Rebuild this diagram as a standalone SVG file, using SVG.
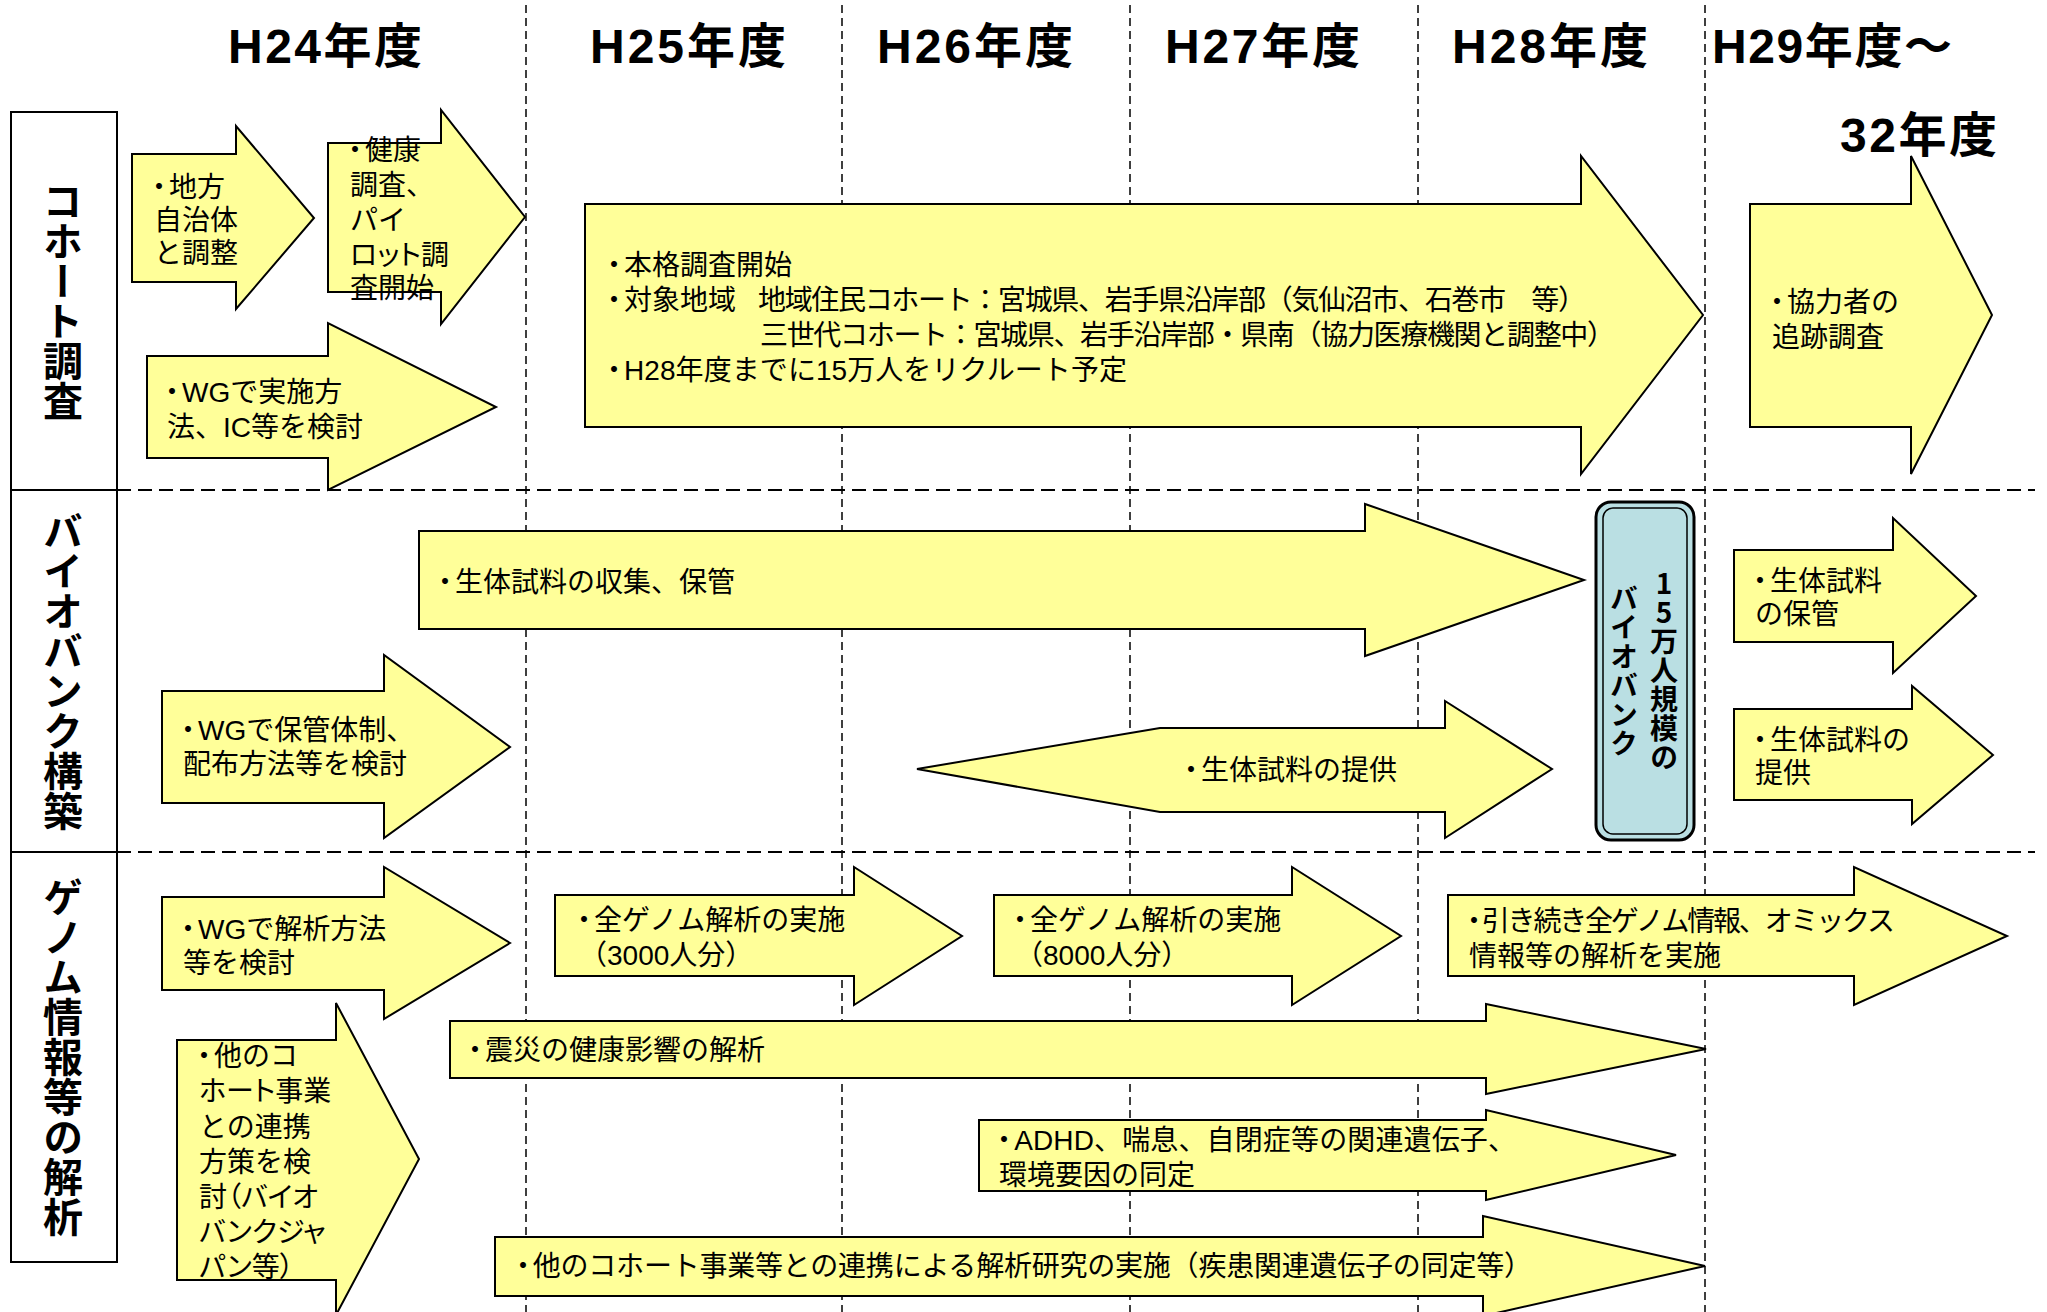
<svg xmlns="http://www.w3.org/2000/svg" width="2047" height="1312" viewBox="0 0 2047 1312">
<style>
.ar{fill:#FFFF99;stroke:#000;stroke-width:2;stroke-linejoin:miter}
.t{font-family:"Liberation Sans","Noto Sans CJK JP",sans-serif;font-size:28px;fill:#000}
.p{font-feature-settings:"palt"}
.h{font-family:"Liberation Sans","Noto Sans CJK JP",sans-serif;font-weight:bold;font-size:48px;fill:#000}
.lab{font-family:"Noto Sans CJK JP",sans-serif;font-weight:bold;font-size:40px;writing-mode:vertical-rl;text-anchor:middle;fill:#000}
.bb{font-family:"Noto Sans CJK JP","Liberation Sans",sans-serif;font-weight:bold;font-size:28px;writing-mode:vertical-rl;text-orientation:upright;text-anchor:middle;letter-spacing:1px;fill:#000}
.vl{stroke:#000;stroke-width:1.5;stroke-dasharray:8 5;fill:none}
.hl{stroke:#000;stroke-width:2;stroke-dasharray:14 7;fill:none}
.box{fill:#fff;stroke:#000;stroke-width:2}
</style>
<rect width="2047" height="1312" fill="#fff"/>
<g id="grid">
<line class="vl" x1="526" y1="5" x2="526" y2="1312"/>
<line class="vl" x1="842" y1="5" x2="842" y2="1312"/>
<line class="vl" x1="1130" y1="5" x2="1130" y2="1312"/>
<line class="vl" x1="1418" y1="5" x2="1418" y2="1312"/>
<line class="vl" x1="1705" y1="5" x2="1705" y2="1312"/>
<line class="hl" x1="117" y1="490" x2="2035" y2="490"/>
<line class="hl" x1="117" y1="852" x2="2035" y2="852"/>
</g>
<g id="headers">
<text class="h" x="228" y="63" textLength="194">H24年度</text>
<text class="h" x="590" y="63" textLength="196">H25年度</text>
<text class="h" x="877" y="63" textLength="196">H26年度</text>
<text class="h" x="1165" y="63" textLength="195">H27年度</text>
<text class="h" x="1452" y="63" textLength="196">H28年度</text>
<text class="h" x="1712" y="63" textLength="240">H29年度～</text>
<text class="h" x="1840" y="152" textLength="157">32年度</text>
</g>
<g id="label-cohort">
<rect class="box" x="11" y="112" width="106" height="378"/>
<text class="lab" x="63" y="301">コホート調査</text>
</g>
<g id="label-biobank">
<rect class="box" x="11" y="490" width="106" height="362"/>
<text class="lab" x="63" y="671">バイオバンク構築</text>
</g>
<g id="label-genome">
<rect class="box" x="11" y="852" width="106" height="410"/>
<text class="lab" x="63" y="1057">ゲノム情報等の解析</text>
</g>
<g id="a1">
<polygon class="ar" points="132,154 236,154 236,126 314,218 236,309 236,282 132,282"/>
<text class="t" x="154" y="197" dx="-9 -4">・地方</text>
<text class="t" x="154" y="230">自治体</text>
<text class="t" x="154" y="263">と調整</text>
</g>
<g id="a2">
<polygon class="ar" points="328,143 441,143 441,110 525,217 441,324 441,292 328,292"/>
<text class="t" x="350" y="160" dx="-9 -4">・健康</text>
<text class="t" x="350" y="195">調査、</text>
<text class="t" x="350" y="230">パイ</text>
<text class="t p" x="350" y="265">ロット調</text>
<text class="t" x="350" y="298">査開始</text>
</g>
<g id="a3">
<polygon class="ar" points="147,356 328,356 328,323 496,407 328,490 328,458 147,458"/>
<text class="t" x="167" y="402" dx="-9 -4">・WGで実施方</text>
<text class="t" x="167" y="437">法、IC等を検討</text>
</g>
<g id="a4">
<polygon class="ar" points="585,204 1581,204 1581,156 1703,315 1581,474 1581,427 585,427"/>
<text class="t" x="609" y="275" dx="-9 -4">・本格調査開始</text>
<text class="t" x="609" y="310" dx="-9 -4">・対象地域</text>
<text class="t" x="758" y="310" textLength="828">地域住民コホート：宮城県、岩手県沿岸部（気仙沼市、石巻市　等）</text>
<text class="t" x="760" y="345" textLength="855">三世代コホート：宮城県、岩手沿岸部・県南（協力医療機関と調整中）</text>
<text class="t" x="609" y="380" dx="-9 -4" textLength="527">・H28年度までに15万人をリクルート予定</text>
</g>
<g id="a5">
<polygon class="ar" points="1750,204 1911,204 1911,156 1992,315 1911,474 1911,427 1750,427"/>
<text class="t" x="1772" y="312" dx="-9 -4">・協力者の</text>
<text class="t" x="1772" y="347">追跡調査</text>
</g>
<g id="b1">
<polygon class="ar" points="419,531 1365,531 1365,504 1584,580 1365,656 1365,629 419,629"/>
<text class="t" x="440" y="592" dx="-9 -4">・生体試料の収集、保管</text>
</g>
<g id="b2">
<polygon class="ar" points="162,691 384,691 384,655 510,747 384,838 384,803 162,803"/>
<text class="t" x="183" y="740" dx="-9 -4">・WGで保管体制、</text>
<text class="t" x="183" y="774">配布方法等を検討</text>
</g>
<g id="b3">
<polygon class="ar" points="917,769 1160,728 1445,728 1445,701 1552,769 1445,838 1445,812 1160,812"/>
<text class="t" x="1186" y="780" dx="-9 -4">・生体試料の提供</text>
</g>
<g id="biobank">
<rect x="1596" y="502" width="98" height="338" rx="15" fill="#BADFE3" stroke="#000" stroke-width="3"/>
<rect x="1603" y="508" width="84" height="326" rx="10" fill="none" stroke="#000" stroke-width="1.5"/>
<text class="bb" x="1664" y="671">15万人規模の</text>
<text class="bb" x="1624" y="671">バイオバンク</text>
</g>
<g id="b4">
<polygon class="ar" points="1734,550 1893,550 1893,518 1976,596 1893,673 1893,642 1734,642"/>
<text class="t" x="1755" y="591" dx="-9 -4">・生体試料</text>
<text class="t" x="1755" y="624">の保管</text>
</g>
<g id="b5">
<polygon class="ar" points="1734,709 1912,709 1912,686 1993,755 1912,824 1912,800 1734,800"/>
<text class="t" x="1755" y="750" dx="-9 -4">・生体試料の</text>
<text class="t" x="1755" y="783">提供</text>
</g>
<g id="c1">
<polygon class="ar" points="162,897 384,897 384,867 510,943 384,1019 384,990 162,990"/>
<text class="t" x="183" y="939" dx="-9 -4">・WGで解析方法</text>
<text class="t" x="183" y="973">等を検討</text>
</g>
<g id="c2">
<polygon class="ar" points="177,1040 336,1040 336,1003 419,1159 336,1315 336,1280 177,1280"/>
<text class="t" x="199" y="1066" dx="-9 -4">・他のコ</text>
<text class="t p" x="199" y="1101">ホート事業</text>
<text class="t" x="199" y="1137">との連携</text>
<text class="t" x="199" y="1172">方策を検</text>
<text class="t p" x="199" y="1207">討（バイオ</text>
<text class="t p" x="199" y="1242">バンクジャ</text>
<text class="t p" x="199" y="1277">パン等）</text>
</g>
<g id="c3">
<polygon class="ar" points="555,895 854,895 854,867 962,936 854,1005 854,976 555,976"/>
<text class="t" x="579" y="930" dx="-9 -4">・全ゲノム解析の実施</text>
<text class="t" x="579" y="965">（3000人分）</text>
</g>
<g id="c4">
<polygon class="ar" points="994,895 1292,895 1292,867 1401,936 1292,1005 1292,976 994,976"/>
<text class="t" x="1015" y="930" dx="-9 -4">・全ゲノム解析の実施</text>
<text class="t" x="1015" y="965">（8000人分）</text>
</g>
<g id="c5">
<polygon class="ar" points="1448,895 1854,895 1854,867 2007,936 1854,1005 1854,976 1448,976"/>
<text class="t" x="1469" y="931" dx="-9 -4" textLength="435">・引き続き全ゲノム情報、オミックス</text>
<text class="t" x="1469" y="966">情報等の解析を実施</text>
</g>
<g id="c6">
<polygon class="ar" points="450,1021 1486,1021 1486,1004 1706,1049 1486,1094 1486,1078 450,1078"/>
<text class="t" x="470" y="1060" dx="-9 -4">・震災の健康影響の解析</text>
</g>
<g id="c7">
<polygon class="ar" points="979,1120 1486,1120 1486,1110 1676,1155 1486,1200 1486,1191 979,1191"/>
<text class="t" x="999" y="1150" dx="-9 -4" textLength="526">・ADHD、喘息、自閉症等の関連遺伝子、</text>
<text class="t" x="999" y="1185">環境要因の同定</text>
</g>
<g id="c8">
<polygon class="ar" points="495,1237 1483,1237 1483,1216 1705,1266 1483,1316 1483,1296 495,1296"/>
<text class="t" x="518" y="1276" dx="-9 -4" textLength="1023">・他のコホート事業等との連携による解析研究の実施（疾患関連遺伝子の同定等）</text>
</g>
</svg>
